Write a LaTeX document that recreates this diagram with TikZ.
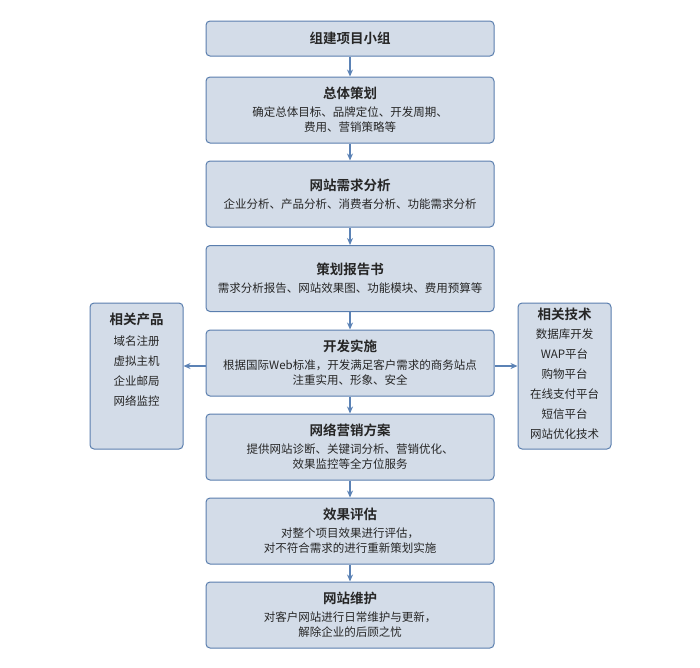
\documentclass[tikz,border=0pt]{standalone}
\usepackage{fontspec}
\setmainfont{Noto Sans CJK SC}[BoldFont={Noto Sans CJK SC Bold}]
\usetikzlibrary{arrows.meta}
\definecolor{boxfill}{HTML}{D3DCE8}
\definecolor{boxline}{HTML}{5A7EAE}
\definecolor{arrowc}{HTML}{5B82B5}
\newcommand{\tit}[1]{{\fontsize{13.5}{15}\selectfont\bfseries #1}}
\tikzset{
  mainbox/.style={draw=boxline, fill=boxfill, rounded corners=4pt, line width=1pt,
    minimum width=288pt, align=center, inner sep=0pt, text=black!85,
    font=\fontsize{11.5}{15}\selectfont},
  sidebox/.style={draw=boxline, fill=boxfill, rounded corners=4pt, line width=1pt,
    minimum width=93pt, minimum height=146pt, inner sep=0pt},
  sidetext/.style={align=center, anchor=north, inner sep=0pt, text=black!85,
    font=\fontsize{11.5}{20}\selectfont},
  arr/.style={draw=arrowc, line width=1.2pt, -{Stealth[length=7pt,width=6pt]}}
}
\begin{document}
\begin{tikzpicture}[x=1pt,y=-1pt]
\useasboundingbox (0,0) rectangle (700,667);
\node[mainbox, minimum height=35pt] (b1) at (350,38.5) {\tit{组建项目小组}};
\node[mainbox, minimum height=66pt] (b2) at (350,110) {\tit{总体策划}\\[3pt]确定总体目标、品牌定位、开发周期、\\费用、营销策略等};
\node[mainbox, minimum height=66pt] (b3) at (350,194) {\tit{网站需求分析}\\[3pt]企业分析、产品分析、消费者分析、功能需求分析};
\node[mainbox, minimum height=66pt] (b4) at (350,278.5) {\tit{策划报告书}\\[3pt]需求分析报告、网站效果图、功能模块、费用预算等};
\node[mainbox, minimum height=66pt] (b5) at (350,363) {\tit{开发实施}\\[3pt]根据国际Web标准，开发满足客户需求的商务站点\\注重实用、形象、安全};
\node[mainbox, minimum height=66pt] (b6) at (350,447) {\tit{网络营销方案}\\[3pt]提供网站诊断、关键词分析、营销优化、\\效果监控等全方位服务};
\node[mainbox, minimum height=66pt] (b7) at (350,531) {\tit{效果评估}\\[3pt]对整个项目效果进行评估，\\对不符合需求的进行重新策划实施};
\node[mainbox, minimum height=66pt] (b8) at (350,615) {\tit{网站维护}\\[3pt]对客户网站进行日常维护与更新，\\解除企业的后顾之忧};
\node[sidebox] (lp) at (136.5,376) {};
\node[sidetext] (lpt) at ([yshift=-10pt]lp.north) {\tit{相关产品}\\[1pt]域名注册\\虚拟主机\\企业邮局\\网络监控};
\node[sidebox] (rt) at (564.5,376) {};
\node[sidetext] (rtt) at ([yshift=-5pt]rt.north) {\tit{相关技术}\\[-1pt]数据库开发\\WAP平台\\购物平台\\在线支付平台\\短信平台\\网站优化技术};
\draw[arr] (b1) -- (b2);
\draw[arr] (b2) -- (b3);
\draw[arr] (b3) -- (b4);
\draw[arr] (b4) -- (b5);
\draw[arr] (b5) -- (b6);
\draw[arr] (b6) -- (b7);
\draw[arr] (b7) -- (b8);
\draw[arr] ([yshift=-3pt]b5.west) -- ([yshift=-3pt]b5.west -| lp.east);
\draw[arr] ([yshift=-3pt]b5.east) -- ([yshift=-3pt]b5.east -| rt.west);
\end{tikzpicture}
\end{document}
